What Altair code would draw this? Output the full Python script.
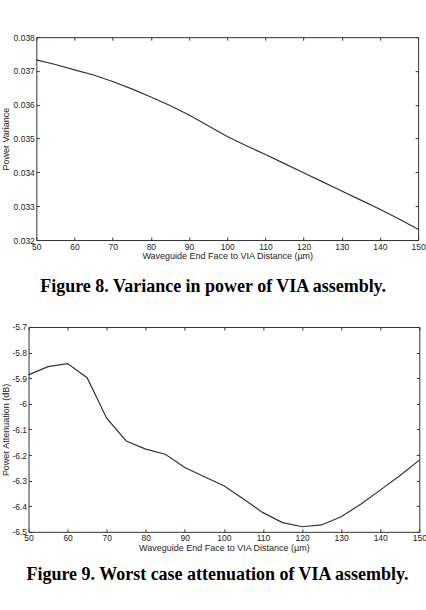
import altair as alt
import pandas as pd

# Waveguide end face to VIA distance (um), sampled every 5 um
distance_um = [50, 55, 60, 65, 70, 75, 80, 85, 90, 95, 100,
               105, 110, 115, 120, 125, 130, 135, 140, 145, 150]

# Figure 8: variance in power
power_variance = [0.03733, 0.03719, 0.03703, 0.03688, 0.03669, 0.03647, 0.03623,
                  0.03598, 0.03570, 0.03538, 0.03506, 0.03479, 0.03453, 0.03426,
                  0.03399, 0.03372, 0.03345, 0.03318, 0.03291, 0.03262, 0.03232]

# Figure 9: worst case attenuation (dB)
attenuation_db = [-5.887, -5.855, -5.843, -5.898, -6.056, -6.145, -6.177,
                  -6.197, -6.249, -6.285, -6.320, -6.372, -6.425, -6.464,
                  -6.480, -6.473, -6.441, -6.392, -6.337, -6.281, -6.220]

x_ticks = [50, 60, 70, 80, 90, 100, 110, 120, 130, 140, 150]
variance_ticks = [0.032, 0.033, 0.034, 0.035, 0.036, 0.037, 0.038]
attenuation_ticks = [-6.5, -6.4, -6.3, -6.2, -6.1, -6.0, -5.9, -5.8, -5.7]

x_title = "Waveguide End Face to VIA Distance (µm)"
caption_8 = "Figure 8. Variance in power of VIA assembly."
caption_9 = "Figure 9. Worst case attenuation of VIA assembly."

INK = "#333333"
SANS = "Liberation Sans"
SERIF = "Liberation Serif"
TICK = 3
LABEL_SIZE = 8.5


def panel(values, field, y_title, y_domain, y_ticks, width, height,
          caption, caption_offset, y_title_pad, right_room=None):
    df = pd.DataFrame({"distance": distance_um, field: values})
    base = alt.Chart(df)

    # labelled axes on bottom/left; a negative offset turns the ticks inward
    shared_axis = dict(domain=False, grid=False, tickSize=TICK, offset=-TICK,
                       tickColor=INK, tickWidth=1, labelFlush=False,
                       labelFont=SANS, labelFontSize=LABEL_SIZE,
                       labelColor="#222222",
                       titleFont=SANS, titleFontSize=9, titleColor="#222222",
                       titleFontWeight="normal")

    curve = base.mark_line(color=INK, strokeWidth=1.2).encode(
        x=alt.X("distance:Q",
                scale=alt.Scale(domain=[50, 150], nice=False, zero=False),
                axis=alt.Axis(values=x_ticks, orient="bottom", title=x_title,
                              labelPadding=2, titlePadding=1,
                              labelExpr="datum.value + ''", **shared_axis)),
        y=alt.Y(f"{field}:Q",
                scale=alt.Scale(domain=y_domain, nice=False, zero=False),
                axis=alt.Axis(values=y_ticks, orient="left", title=y_title,
                              labelPadding=2, titlePadding=y_title_pad,
                              labelExpr="datum.value + ''", **shared_axis)),
    )

    # mirrored tick-only axes on top/right
    mirror_axis = dict(domain=False, grid=False, title=None,
                       tickSize=TICK, offset=-TICK, tickColor=INK, tickWidth=1)
    if right_room is None:
        right_axis = alt.Axis(values=y_ticks, orient="right", labels=False,
                              **mirror_axis)
    else:
        # blank labels reserve room on the right so the two panels sit
        # with their own left edges
        right_axis = alt.Axis(values=y_ticks, orient="right", labels=True,
                              labelOpacity=0, labelFont=SANS,
                              labelFontSize=LABEL_SIZE, labelFlush=False,
                              labelPadding=right_room,
                              labelExpr="'\u00a0'", **mirror_axis)
    mirror = base.mark_line(strokeOpacity=0).encode(
        x=alt.X("distance:Q",
                axis=alt.Axis(values=x_ticks, orient="top", labels=False,
                              **mirror_axis)),
        y=alt.Y(f"{field}:Q", axis=right_axis),
    )

    return alt.layer(curve, mirror).properties(
        width=width,
        height=height,
        title=alt.TitleParams(caption, orient="bottom", anchor="middle",
                              frame="bounds", font=SERIF, fontSize=18,
                              fontWeight="bold", color="black",
                              baseline="alphabetic", offset=caption_offset),
    )


variance_chart = panel(power_variance, "variance", "Power Variance",
                       [0.032, 0.038], variance_ticks, 382, 203,
                       caption_8, 31, 3)
attenuation_chart = panel(attenuation_db, "attenuation", "Power Attenuation (dB)",
                          [-6.5, -5.7], attenuation_ticks, 391, 205,
                          caption_9, 28, 1, right_room=13.73)

chart = alt.vconcat(variance_chart, attenuation_chart,
                    center=True, spacing=26).properties(
    padding={"left": 0.15, "top": 32, "right": -7.9, "bottom": 0},
    background="white",
).configure_view(stroke=INK, strokeWidth=1)

chart.save("out.html", embed_options={"renderer": "svg", "actions": False})
